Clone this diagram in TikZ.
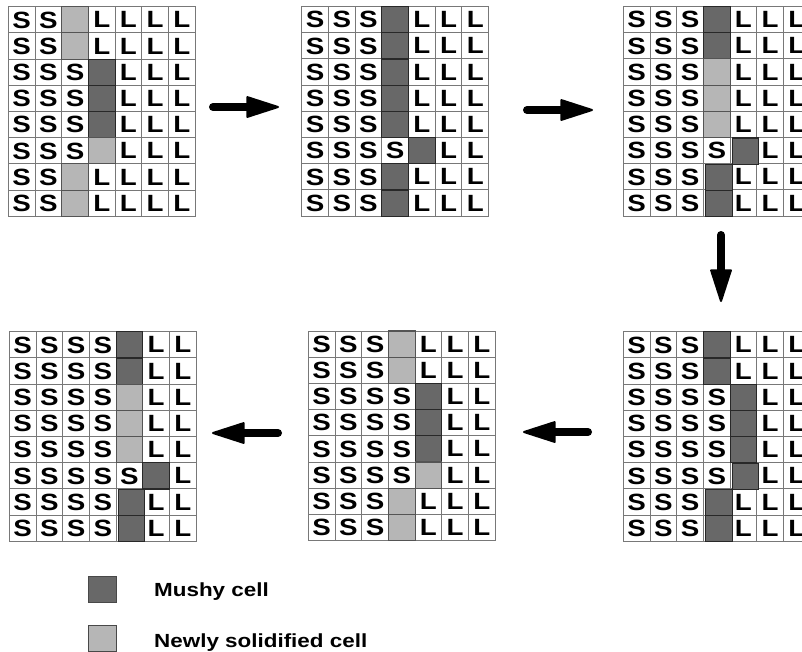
\documentclass[tikz,border=0pt]{standalone}
\usepackage{fontspec}
\usepackage{graphicx}
\setmainfont{Liberation Sans}
\newfontfamily\widesans{Liberation Sans}[FakeStretch=1.18]
\usetikzlibrary{arrows.meta}

\definecolor{mushy}{RGB}{104,104,104}
\definecolor{newsolid}{RGB}{182,182,182}
\definecolor{gridline}{RGB}{120,120,120}
\definecolor{mushyedge}{RGB}{40,40,40}

\tikzset{
  cellbase/.style={rectangle, inner sep=0pt, minimum width=26.7pt, minimum height=26.2pt,
    line width=0.9pt, font=\widesans\bfseries\fontsize{23.5}{25}\selectfont, text depth=0pt},
  cellS/.style={cellbase, draw=gridline, fill=white},
  cellL/.style={cellbase, draw=gridline, fill=white},
  cellM/.style={cellbase, draw=gridline, fill=white},
  cellN/.style={cellbase, draw=gridline, fill=white},
  cellR/.style={cellbase, draw=gridline, fill=white},
  % second pass: only the coloured cells are painted over the grid
  markS/.style={cellbase},
  markL/.style={cellbase},
  markM/.style={cellbase, draw=mushyedge, fill=mushy, line width=1.2pt},
  markR/.style={markM, xshift=2pt, yshift=-0.5pt},
  markN/.style={cellbase, draw=gridline!70!black, fill=newsolid, line width=1.1pt},
  swatch/.style={rectangle, inner sep=0pt, minimum width=28.5pt, minimum height=26pt,
    draw=gridline!60!black, line width=0.9pt},
  keytext/.style={anchor=base west, inner sep=0pt, font=\widesans\bfseries\fontsize{19}{21}\selectfont},
  stagearrow/.style={line width=8pt, line cap=round,
    -{Triangle[length=35pt, width=22pt, line width=2pt, round]}}
}

% text placed in each kind of cell
\def\celltxtS{S}
\def\celltxtL{L}
\def\celltxtM{}
\def\celltxtN{}
\def\celltxtR{}

% #1 grid name, #2 left x, #3 top y, #4 rows (top to bottom)
\newcommand\cellgrid[4]{%
  \foreach \row [count=\r] in {#4}{%
    \foreach \t [count=\c] in \row {%
      \node[cell\t] (#1-\r-\c) at ({#2+(\c-0.5)*26.7},{#3+(\r-0.5)*26.2}) {\csname celltxt\t\endcsname};
    }%
  }%
  \foreach \row [count=\r] in {#4}{%
    \foreach \t [count=\c] in \row {%
      \path (#1-\r-\c.center) node[mark\t] {};
    }%
  }%
}

\begin{document}
\begin{tikzpicture}[x=1pt, y=-1pt]
\useasboundingbox (0,0) rectangle (802,651);

% stage 1
\cellgrid{ga}{8.3}{6.7}{
  {S,S,N,L,L,L,L},{S,S,N,L,L,L,L},{S,S,S,M,L,L,L},{S,S,S,M,L,L,L},
  {S,S,S,M,L,L,L},{S,S,S,N,L,L,L},{S,S,N,L,L,L,L},{S,S,N,L,L,L,L}}
% stage 2
\cellgrid{gb}{301.7}{6.5}{
  {S,S,S,M,L,L,L},{S,S,S,M,L,L,L},{S,S,S,M,L,L,L},{S,S,S,M,L,L,L},
  {S,S,S,M,L,L,L},{S,S,S,S,M,L,L},{S,S,S,M,L,L,L},{S,S,S,M,L,L,L}}
% stage 3
\cellgrid{gc}{623.3}{6.5}{
  {S,S,S,M,L,L,L},{S,S,S,M,L,L,L},{S,S,S,N,L,L,L},{S,S,S,N,L,L,L},
  {S,S,S,N,L,L,L},{S,S,S,S,R,L,L},{S,S,S,R,L,L,L},{S,S,S,R,L,L,L}}
% stage 4
\cellgrid{gd}{623.3}{331.7}{
  {S,S,S,M,L,L,L},{S,S,S,M,L,L,L},{S,S,S,S,M,L,L},{S,S,S,S,M,L,L},
  {S,S,S,S,M,L,L},{S,S,S,S,R,L,L},{S,S,S,R,L,L,L},{S,S,S,R,L,L,L}}
% stage 5
\cellgrid{ge}{308.3}{331}{
  {S,S,S,N,L,L,L},{S,S,S,N,L,L,L},{S,S,S,S,M,L,L},{S,S,S,S,M,L,L},
  {S,S,S,S,M,L,L},{S,S,S,S,N,L,L},{S,S,S,N,L,L,L},{S,S,S,N,L,L,L}}
% stage 6
\cellgrid{gf}{9.3}{331.7}{
  {S,S,S,S,M,L,L},{S,S,S,S,M,L,L},{S,S,S,S,N,L,L},{S,S,S,S,N,L,L},
  {S,S,S,S,N,L,L},{S,S,S,S,S,M,L},{S,S,S,S,R,L,L},{S,S,S,S,R,L,L}}

% arrow end points between stages
\coordinate (ab-from) at (213,107);
\coordinate (ab-to)   at (279,107);
\coordinate (bc-from) at (527,110);
\coordinate (bc-to)   at (593,110);
\coordinate (cd-from) at (721,235);
\coordinate (cd-to)   at (721,302);
\coordinate (de-from) at (588,432);
\coordinate (de-to)   at (523,432);
\coordinate (ef-from) at (278,433);
\coordinate (ef-to)   at (212,433);

\draw[stagearrow] (ab-from) -- (ab-to);
\draw[stagearrow] (bc-from) -- (bc-to);
\draw[stagearrow] (cd-from) -- (cd-to);
\draw[stagearrow] (de-from) -- (de-to);
\draw[stagearrow] (ef-from) -- (ef-to);

% key
\node[swatch, fill=mushy] (key-mushy) at (102.3,589.7) {};
\node[keytext] (key-mushy-text) at (154,596) {Mushy cell};
\node[swatch, fill=newsolid] (key-new) at (102.3,638) {};
\node[keytext] (key-new-text) at (154,647.5) {Newly solidified cell};
\end{tikzpicture}
\end{document}
